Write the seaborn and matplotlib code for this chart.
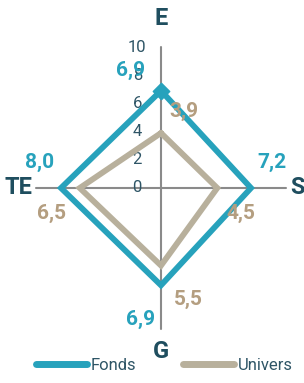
import pandas as pd
import numpy as np
import matplotlib
matplotlib.use('Agg')
import matplotlib.pyplot as plt
import seaborn as sns

axes_labels = ['E', 'S', 'G', 'TE']
fonds = [6.9, 7.2, 6.9, 8.0]
univers = [3.9, 4.5, 5.5, 6.5]
ticks = [0, 2, 4, 6, 8, 10]

teal = '#27A2BC'
beige = '#B8B09C'
beige_txt = '#B49E80'
dark = '#1F4E5F'

sns.set_style('white')
plt.rcParams['font.family'] = ['Roboto', 'DejaVu Sans']

# directions for each axis: E up, S right, G down, TE left
dirs = {'E': (0, 1), 'S': (1, 0), 'G': (0, -1), 'TE': (-1, 0)}


def to_xy(vals, name):
    rows = []
    for lab, v in list(zip(axes_labels, vals)) + [(axes_labels[0], vals[0])]:
        dx, dy = dirs[lab]
        rows.append({'x': dx * v, 'y': dy * v, 'serie': name})
    return rows


df = pd.DataFrame(to_xy(fonds, 'Fonds') + to_xy(univers, 'Univers'))

fig = plt.figure(figsize=(3.04, 3.83), dpi=100)
ax = fig.add_axes([0, 0, 1, 1])
# unequal scales as in reference: 12.5 px/unit horizontally, 14.1 px/unit vertically
ax.set_xlim(-161 / 12.5, (304 - 161) / 12.5)
ax.set_ylim(-(383 - 188) / 14.1, 188 / 14.1)
ax.axis('off')

# grid axes
ax.plot([0, 0], [-10, 10], color='#8a8a8a', lw=1.5, zorder=1)
ax.plot([-10, 10], [0, 0], color='#8a8a8a', lw=1.5, zorder=1)

sns.lineplot(data=df, x='x', y='y', hue='serie', sort=False, estimator=None,
             units='serie', palette={'Fonds': teal, 'Univers': beige},
             linewidth=4.2, ax=ax, zorder=3, legend=True)
for l in ax.lines:
    l.set_solid_joinstyle('miter')
ax.scatter([0], [fonds[0]], marker='D', s=70, color=teal, zorder=4)

# radial ticks
for t in ticks:
    ax.text(-1.9, t, str(t), ha='center', va='center', fontsize=12,
            color='#2E5566', zorder=2)

# axis names
kw_ax = dict(ha='center', va='center', fontsize=17, fontweight='bold', color=dark)
ax.text(0, 12, 'E', **kw_ax)
ax.text(10.9, 0, 'S', **kw_ax)
ax.text(-11.4, 0, 'TE', **kw_ax)
ax.text(0, -11.6, 'G', **kw_ax)

# value labels
def fmt(v):
    return ('%.1f' % v).replace('.', ',')

kw = dict(ha='center', va='center', fontsize=15, fontweight='bold')
ax.text(-2.45, 8.35, fmt(fonds[0]), color=teal, **kw)
ax.text(1.8, 5.4, fmt(univers[0]), color=beige_txt, **kw)
ax.text(8.9, 1.8, fmt(fonds[1]), color=teal, **kw)
ax.text(6.4, -1.8, fmt(univers[1]), color=beige_txt, **kw)
ax.text(-1.6, -9.3, fmt(fonds[2]), color=teal, **kw)
ax.text(2.2, -7.9, fmt(univers[2]), color=beige_txt, **kw)
ax.text(-9.7, 1.8, fmt(fonds[3]), color=teal, **kw)
ax.text(-8.75, -1.8, fmt(univers[3]), color=beige_txt, **kw)

handles, labels = ax.get_legend_handles_labels()
for h in handles:
    h.set_linewidth(5)
    h.set_solid_capstyle('round')
leg = ax.legend(handles, labels, loc='lower center', bbox_to_anchor=(0.54, -0.012),
                ncol=2, frameon=False, fontsize=12, handlelength=3.1,
                handletextpad=0.2, columnspacing=2.8)
for t in leg.get_texts():
    t.set_color('#2E5566')

fig.savefig('out.png', dpi=100)
